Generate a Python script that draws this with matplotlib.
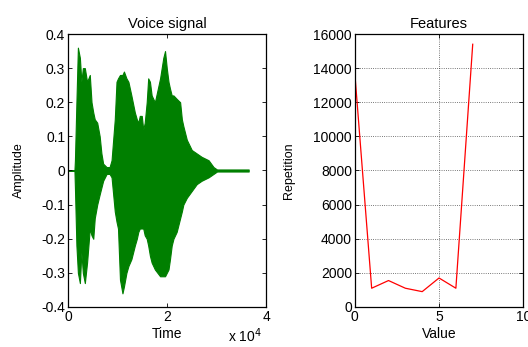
import numpy as np
import matplotlib
matplotlib.use("Agg")
import matplotlib.pyplot as plt

plt.rcParams['font.family'] = ['Liberation Sans', 'DejaVu Sans']
plt.rcParams['font.size'] = 10

# voice signal envelope (sample index, upper, lower)
t = [0, 1300, 1400, 1700, 2000, 2400, 2700, 3000, 3400, 3850,
     4400, 4750, 5100, 5400, 5900, 6400, 6750, 7100, 7800, 8400,
     8800, 9450, 9800, 10100, 10500, 11000, 11300, 11800, 12200, 12800,
     13500, 13900, 14200, 14500, 14900, 15200, 15500, 15900, 16200, 16550,
     16900, 17550, 18600, 19250, 19600, 19950, 20300, 20600, 20950, 21300,
     21950, 22650, 23000, 23300, 24000, 25000, 26000, 27000, 28400, 29400,
     30100, 36500]
upper = [0, 0, 0.03, 0.20, 0.36, 0.33, 0.26, 0.30, 0.30, 0.26,
         0.28, 0.20, 0.17, 0.15, 0.14, 0.10, 0.05, 0.02, 0.01, 0.01,
         0.03, 0.15, 0.26, 0.27, 0.28, 0.28, 0.29, 0.27, 0.26, 0.22,
         0.17, 0.15, 0.14, 0.16, 0.16, 0.12, 0.14, 0.20, 0.27, 0.26,
         0.22, 0.20, 0.27, 0.33, 0.35, 0.30, 0.26, 0.24, 0.22, 0.22,
         0.21, 0.20, 0.15, 0.13, 0.09, 0.06, 0.05, 0.04, 0.03, 0.01,
         0.003, 0.003]
lower = [0, 0, -0.05, -0.22, -0.30, -0.33, -0.24, -0.30, -0.33, -0.27,
         -0.17, -0.19, -0.20, -0.14, -0.10, -0.07, -0.05, -0.03, -0.01, -0.01,
         -0.02, -0.12, -0.15, -0.17, -0.32, -0.36, -0.34, -0.30, -0.28, -0.26,
         -0.22, -0.20, -0.18, -0.17, -0.17, -0.17, -0.19, -0.20, -0.22, -0.25,
         -0.27, -0.29, -0.31, -0.31, -0.31, -0.30, -0.29, -0.26, -0.22, -0.20,
         -0.18, -0.14, -0.12, -0.10, -0.08, -0.06, -0.04, -0.03, -0.02, -0.01,
         -0.003, -0.003]

# features histogram
feat_x = [0, 1, 2, 3, 4, 5, 6, 7]
feat_y = [13700, 1100, 1550, 1100, 900, 1700, 1100, 15400]

fig = plt.figure(figsize=(5.28, 3.47), dpi=100)

ax1 = fig.add_axes([0.1288, 0.1153, 0.375, 0.7867])
ax1.fill_between(np.array(t) / 1e4, lower, upper, color='#007f00',
                 edgecolor='#007f00', linewidth=0.8)
ax1.set_xlim(0, 4)
ax1.set_ylim(-0.4, 0.4)
ax1.set_xticks([0, 2, 4])
ax1.set_xticklabels(['0', '2', '4'])
ax1.set_yticks(np.arange(-0.4, 0.41, 0.1))
ax1.set_yticklabels(['-0.4', '-0.3', '-0.2', '-0.1', '0', '0.1', '0.2', '0.3', '0.4'])
ax1.set_title('Voice signal', fontsize=10.5, pad=4)
ax1.set_xlabel('Time', labelpad=2)
ax1.set_ylabel('Amplitude', fontsize=9, labelpad=12)
fig.text(0.432, 0.014, r'x 10$^{4}$', fontsize=10)

ax2 = fig.add_axes([0.672, 0.1153, 0.319, 0.7867])
ax2.plot(feat_x, feat_y, color='red', linewidth=0.9)
ax2.set_xlim(0, 10)
ax2.set_ylim(0, 16000)
ax2.set_xticks([0, 5, 10])
ax2.set_yticks(range(0, 16001, 2000))
ax2.grid(True, linestyle=':', color='black', linewidth=0.6, alpha=0.7)
ax2.set_title('Features', fontsize=10.5, pad=4)
ax2.set_xlabel('Value', labelpad=2)
ax2.set_ylabel('Repetition', fontsize=9, labelpad=13)

for ax in (ax1, ax2):
    ax.tick_params(direction='in', top=True, right=True, length=3,
                   width=0.6, pad=2, labelsize=10)
    for s in ax.spines.values():
        s.set_linewidth(0.9)

fig.savefig('out.png', dpi=100)
